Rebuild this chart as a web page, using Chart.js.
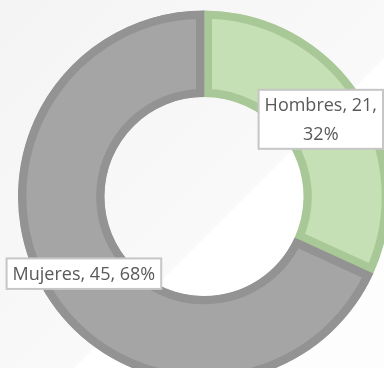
<!DOCTYPE html>
<html>
<head>
<meta charset="utf-8">
<script src="https://cdn.jsdelivr.net/npm/chart.js@4.4.1/dist/chart.umd.min.js"></script>
<style>
  html, body { margin: 0; padding: 0; }
  body {
    width: 384px;
    height: 368px;
    overflow: hidden;
    background: linear-gradient(135deg, #f4f4f4 0%, #f9f9f9 58.6%, #ffffff 59%, #fdfdfd 100%);
  }
  #genderChart { display: block; width: 384px; height: 368px; }
</style>
</head>
<body>
<canvas id="genderChart" width="384" height="384"></canvas>
<script>
// Participantes por sexo
const categories = ['Hombres', 'Mujeres'];
const counts = [21, 45];

// Excel-style data labels: "Nombre, valor, porcentaje" inside a white box
const sliceLabels = {
    id: 'sliceLabels',
    afterDatasetsDraw(chart) {
        const ctx = chart.ctx;
        const meta = chart.getDatasetMeta(0);
        const total = counts.reduce((a, b) => a + b, 0);
        const padX = 6;
        const padY = 1;
        const lineH = 28.5;

        ctx.save();
        ctx.font = '18px "Open Sans"';
        ctx.textAlign = 'center';
        ctx.textBaseline = 'middle';

        meta.data.forEach((arc, i) => {
            const pct = Math.round(counts[i] / total * 100);
            const text = `${categories[i]}, ${counts[i]}, ${pct}%`;
            const pos = arc.tooltipPosition();

            let lines = [text];
            let w = ctx.measureText(text).width + padX * 2;
            // wrap the percentage onto its own line if the box runs off the canvas
            if (pos.x + w / 2 > chart.width) {
                const cut = text.lastIndexOf(', ');
                lines = [text.slice(0, cut + 1), text.slice(cut + 2)];
                w = Math.max(...lines.map(l => ctx.measureText(l).width)) + padX * 2;
            }
            const h = lines.length * lineH + padY * 2;

            let x = pos.x - w / 2;
            x = Math.min(Math.max(x, 1), chart.width - w - 1);
            const y = pos.y - h / 2;

            ctx.fillStyle = '#ffffff';
            ctx.fillRect(x, y, w, h);
            ctx.strokeStyle = '#c6c6c6';
            ctx.lineWidth = 2;
            ctx.strokeRect(x, y, w, h);

            ctx.fillStyle = '#595959';
            lines.forEach((line, j) => {
                ctx.fillText(line, x + w / 2, y + padY + lineH * (j + 0.5) + 1);
            });
        });
        ctx.restore();
    }
};

new Chart(document.getElementById('genderChart'), {
    type: 'doughnut',
    data: {
        labels: categories,
        datasets: [{
            data: counts,
            backgroundColor: ['#c5e0b4', '#a5a5a5'],
            borderColor: ['#a9c897', '#939393'],
            borderWidth: 8,
            borderAlign: 'inner',
            borderJoinStyle: 'miter',
            hoverOffset: 0
        }]
    },
    options: {
        responsive: false,
        animation: false,
        radius: 186,
        cutout: '53.5%',
        layout: { padding: { left: 24, top: 9, right: 0, bottom: 0 } },
        plugins: {
            legend: { display: false },
            tooltip: { enabled: false }
        },
        events: []
    },
    plugins: [sliceLabels]
});
</script>
</body>
</html>
